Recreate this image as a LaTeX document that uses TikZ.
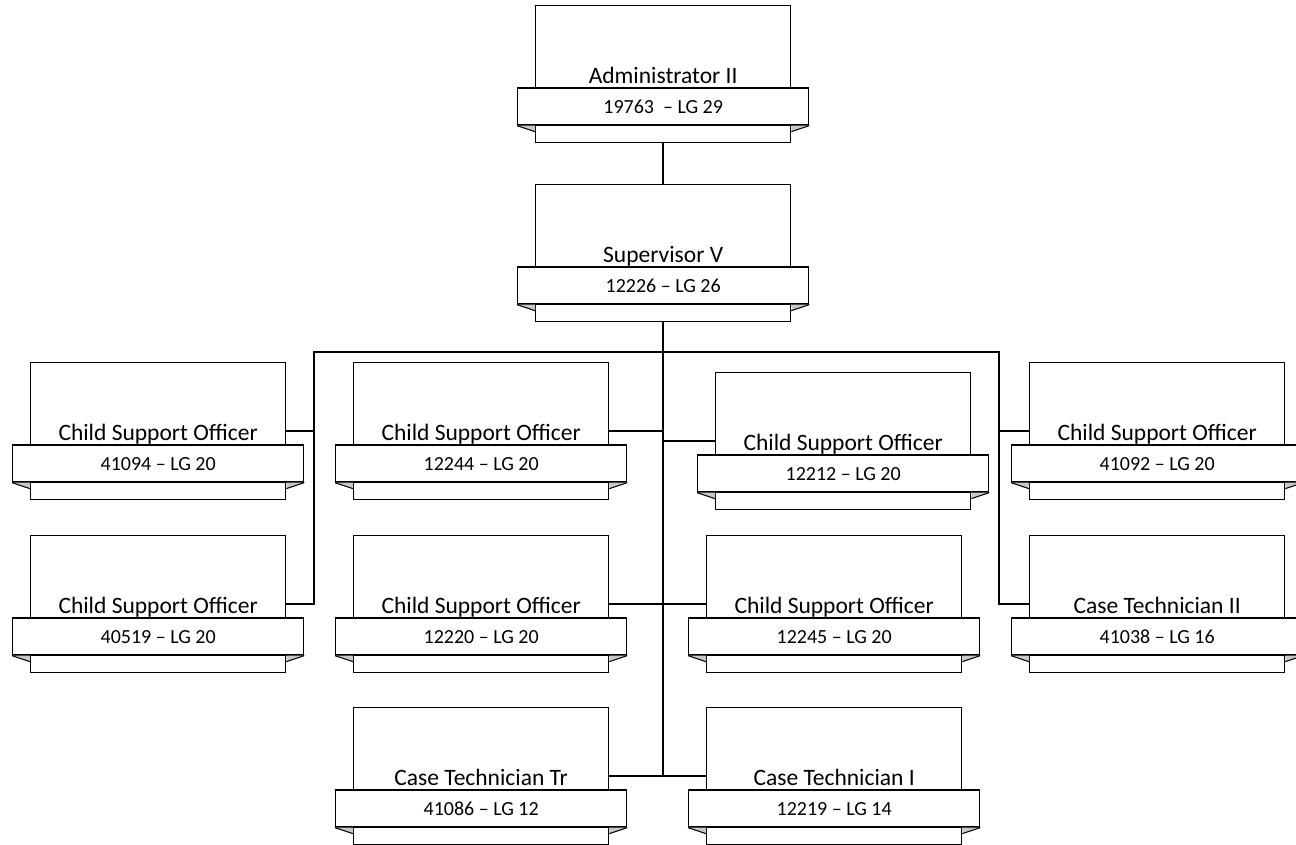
\documentclass[tikz,border=0pt]{standalone}
\usepackage{fontspec}
\setmainfont{Carlito}
\usetikzlibrary{calc}
\definecolor{foldgray}{RGB}{200,200,200}
\tikzset{
  unitbox/.style={draw, line width=1.3pt, minimum width=255pt, minimum height=137pt, inner sep=0pt, anchor=north west},
  ribbon/.style={draw, fill=white, line width=1.3pt, minimum width=291pt, minimum height=37pt, inner sep=0pt, text height=13pt, text depth=0pt, font=\fontsize{20}{24}\selectfont},
  titletext/.style={anchor=base, inner sep=0pt, font=\fontsize{23.5}{28}\selectfont},
  foldfill/.style={fill=foldgray},
  foldline/.style={line width=1pt},
  conn/.style={line width=2.3pt},
}
\newcommand\orgunit[5]{%
  \node[unitbox] (#1) at (#2,#3) {};
  \node[ribbon] (#1r) at ($(#1.north)+(0,101.5)$) {#5};
  \fill[foldfill] (#1r.south west) -- (#1r.south west -| #1.west) -- ++(0,6) -- cycle;
  \fill[foldfill] (#1r.south east) -- (#1r.south east -| #1.east) -- ++(0,6) -- cycle;
  \draw[foldline] (#1r.south west) -- ($(#1r.south west -| #1.west)+(0,6)$);
  \draw[foldline] (#1r.south east) -- ($(#1r.south east -| #1.east)+(0,6)$);
  \node[titletext] (#1t) at ($(#1.north)+(0,78)$) {#4};
}
\begin{document}
\begin{tikzpicture}[x=1pt,y=-1pt]
\useasboundingbox (0,0) rectangle (1296,844);
\orgunit{admin}{535}{5}{Administrator II}{19763\ \ – LG 29}
\orgunit{sup}{535}{184}{Supervisor V}{12226 – LG 26}
\orgunit{cA}{30}{362}{Child Support Officer}{41094 – LG 20}
\orgunit{cB}{30}{535}{Child Support Officer}{40519 – LG 20}
\orgunit{cC}{353}{362}{Child Support Officer}{12244 – LG 20}
\orgunit{cD}{353}{535}{Child Support Officer}{12220 – LG 20}
\orgunit{cE}{353}{707}{Case Technician Tr}{41086 – LG 12}
\orgunit{cF}{715}{372}{Child Support Officer}{12212 – LG 20}
\orgunit{cG}{706}{535}{Child Support Officer}{12245 – LG 20}
\orgunit{cH}{706}{707}{Case Technician I}{12219 – LG 14}
\orgunit{cI}{1029}{362}{Child Support Officer}{41092 – LG 20}
\orgunit{cJ}{1029}{535}{Case Technician II}{41038 – LG 16}
\coordinate (busL) at (314,352);
\coordinate (busR) at (999,352);
\coordinate (trunk) at (sup.south |- cE.east);
\draw[conn] (admin.south) -- (sup.north);
\draw[conn] (sup.south) -- (trunk);
\draw[conn] (cB.east) -| (busL) -- (busR) |- (cJ.west);
\draw[conn] (cA.east) -- (cA.east -| busL);
\draw[conn] (cI.west) -- (cI.west -| busR);
\draw[conn] (cC.east) -- (cC.east -| trunk);
\draw[conn] (cF.west) -- (cF.west -| trunk);
\draw[conn] (cD.east) -- (cG.west);
\draw[conn] (cE.east) -- (cH.west);
\end{tikzpicture}
\end{document}
